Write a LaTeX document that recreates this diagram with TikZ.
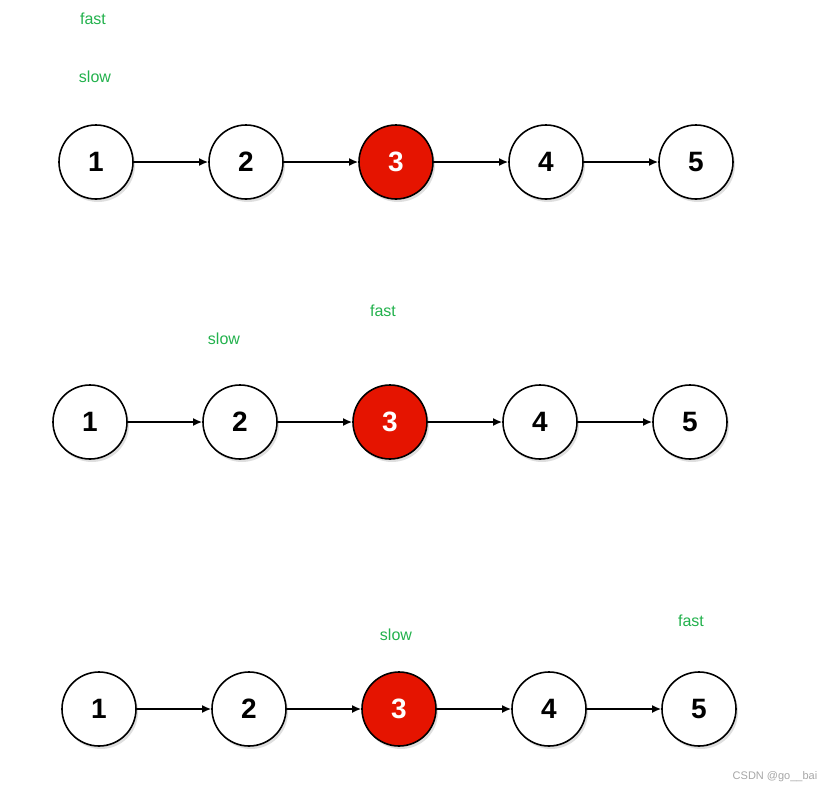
\documentclass[tikz,border=0pt]{standalone}
\usepackage{fontspec}
\setmainfont{Liberation Sans}
\usetikzlibrary{positioning, shadows, arrows.meta}
\definecolor{nodered}{HTML}{E51400}
\definecolor{labelgreen}{HTML}{22B14C}
\tikzset{
  listnode/.style={circle, draw=black, line width=1.6pt, fill=white, minimum size=74pt, inner sep=0pt,
    font=\fontsize{28}{28}\selectfont\bfseries, drop shadow={shadow xshift=2pt, shadow yshift=-3pt, opacity=0.25}},
  hotnode/.style={listnode, fill=nodered, text=white},
  ptr/.style={text=labelgreen, font=\fontsize{16}{16}\selectfont},
  link/.style={-{Latex[length=9pt, width=8pt]}, line width=1.8pt}
}
\begin{document}
\begin{tikzpicture}[x=1pt, y=-1pt]
\useasboundingbox (0,0) rectangle (836,793);

% first row
\node[listnode] (a1) at (96,162) {1};
\node[listnode, right=74.4pt of a1] (a2) {2};
\node[hotnode, right=74.4pt of a2] (a3) {3};
\node[listnode, right=74.4pt of a3] (a4) {4};
\node[listnode, right=74.4pt of a4] (a5) {5};
\foreach \i/\j in {1/2,2/3,3/4,4/5}
  \draw[link] (a\i) -- (a\j);
\node[ptr] (afast) at (93,19) {fast};
\node[ptr] (aslow) at (95,77) {slow};

% second row
\node[listnode] (b1) at (90,422) {1};
\node[listnode, right=74.4pt of b1] (b2) {2};
\node[hotnode, right=74.4pt of b2] (b3) {3};
\node[listnode, right=74.4pt of b3] (b4) {4};
\node[listnode, right=74.4pt of b4] (b5) {5};
\foreach \i/\j in {1/2,2/3,3/4,4/5}
  \draw[link] (b\i) -- (b\j);
\node[ptr] (bslow) at (224,339) {slow};
\node[ptr] (bfast) at (383,311) {fast};

% third row
\node[listnode] (c1) at (99,709) {1};
\node[listnode, right=74.4pt of c1] (c2) {2};
\node[hotnode, right=74.4pt of c2] (c3) {3};
\node[listnode, right=74.4pt of c3] (c4) {4};
\node[listnode, right=74.4pt of c4] (c5) {5};
\foreach \i/\j in {1/2,2/3,3/4,4/5}
  \draw[link] (c\i) -- (c\j);
\node[ptr] (cslow) at (396,635) {slow};
\node[ptr] (cfast) at (691,621) {fast};

\node[text=gray!70, font=\fontsize{11}{11}\selectfont] (mark) at (775,777) {CSDN @go\_\_bai};
\end{tikzpicture}
\end{document}
